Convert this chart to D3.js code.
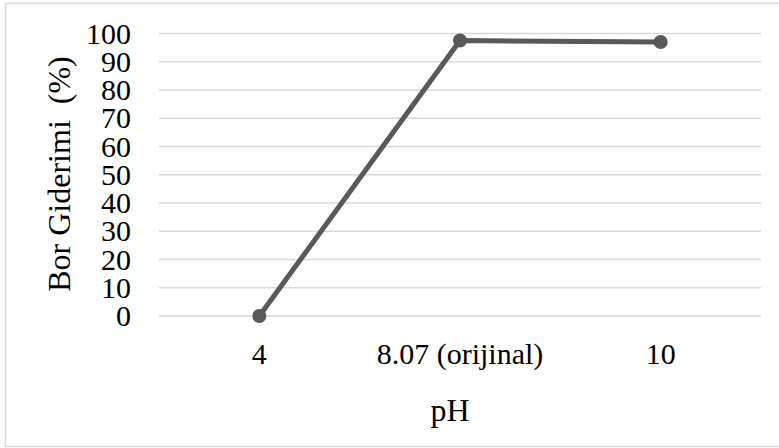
<!DOCTYPE html>
<html>
<head>
<meta charset="utf-8">
<script src="https://cdn.jsdelivr.net/npm/d3@7"></script>
<style>
body{margin:0;background:#fff;}
text{font-family:"Liberation Serif","Times New Roman",serif;fill:#000;}
</style>
</head>
<body>
<div id="main"></div>
<script>
var categories = ['4', '8.07 (orijinal)', '10'];
var values = [0, 97.5, 97.0];
var yTicks = [0, 10, 20, 30, 40, 50, 60, 70, 80, 90, 100];

var width = 779, height = 448;
var plotLeft = 159, plotRight = 761, plotTop = 33.5, plotBottom = 316;

var svg = d3.select('#main')
  .append('svg')
    .attr('width', width)
    .attr('height', height);

// chart border
svg.append('rect')
    .attr('x', 5.5).attr('y', 3.5)
    .attr('width', width + 10).attr('height', 443)
    .attr('fill', '#fff')
    .attr('stroke', '#d9d9d9')
    .attr('stroke-width', 1.5);

var x = d3.scaleBand()
    .domain(categories)
    .range([plotLeft, plotRight]);
var y = d3.scaleLinear()
    .domain([0, 100])
    .range([plotBottom, plotTop]);

// grid
svg.append('g')
  .selectAll('line')
    .data(yTicks)
  .enter().append('line')
    .attr('x1', plotLeft).attr('x2', plotRight)
    .attr('y1', function(d){return y(d)})
    .attr('y2', function(d){return y(d)})
    .attr('stroke', '#d9d9d9')
    .attr('stroke-width', 1.5);

// y labels
svg.append('g')
  .selectAll('text')
    .data(yTicks)
  .enter().append('text')
    .attr('x', 131)
    .attr('y', function(d){return y(d)})
    .attr('dy', '0.34em')
    .attr('text-anchor', 'end')
    .style('font-size', '30px')
    .text(function(d){return d});

// x labels
svg.append('g')
  .selectAll('text')
    .data(categories)
  .enter().append('text')
    .attr('x', function(d){return x(d) + x.bandwidth()/2})
    .attr('y', 364)
    .attr('text-anchor', 'middle')
    .style('font-size', '30px')
    .text(function(d){return d});

// axis titles
svg.append('text')
    .attr('x', 450).attr('y', 421)
    .attr('text-anchor', 'middle')
    .style('font-size', '32px')
    .text('pH');
svg.append('text')
    .attr('transform', 'translate(70,174) rotate(-90)')
    .attr('text-anchor', 'middle')
    .style('font-size', '32px')
    .style('white-space', 'pre')
    .text('Bor Giderimi  (%)');

// line
var line = d3.line()
    .x(function(d, i){return x(categories[i]) + x.bandwidth()/2})
    .y(function(d){return y(d)});

svg.append('path')
    .datum(values)
    .attr('d', line)
    .attr('fill', 'none')
    .attr('stroke', '#595959')
    .attr('stroke-width', 5)
    .attr('stroke-linejoin', 'round');

svg.append('g')
  .selectAll('circle')
    .data(values)
  .enter().append('circle')
    .attr('cx', function(d, i){return x(categories[i]) + x.bandwidth()/2})
    .attr('cy', function(d){return y(d)})
    .attr('r', 7)
    .attr('fill', '#595959');
</script>
</body>
</html>
